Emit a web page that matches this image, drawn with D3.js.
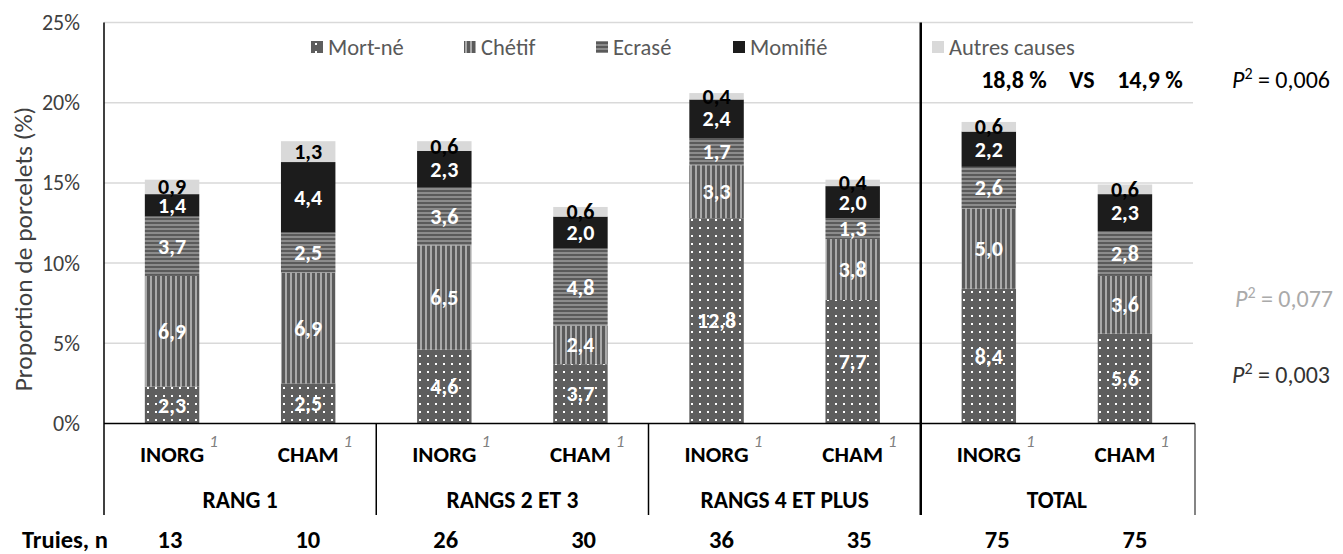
<!DOCTYPE html>
<html><head><meta charset="utf-8">
<script src="https://cdn.jsdelivr.net/npm/d3@7"></script>
<style>
body{margin:0;background:#fff}
text{font-family:Carlito,Lato,"Open Sans",sans-serif}
</style>
</head><body>
<svg id="chart" width="1343" height="554"></svg>
<script>
// ---------- data ----------
const categories = ["R1-INORG","R1-CHAM","R23-INORG","R23-CHAM","R4-INORG","R4-CHAM","T-INORG","T-CHAM"];
const subLabels = ["INORG","CHAM","INORG","CHAM","INORG","CHAM","INORG","CHAM"];
const groups = ["RANG 1","RANGS 2 ET 3","RANGS 4 ET PLUS","TOTAL"];
const seriesNames = ["Mort-né","Chétif","Ecrasé","Momifié","Autres causes"];
const mortNe  = [2.3, 2.5, 4.6, 3.7, 12.8, 7.7, 8.4, 5.6];
const chetif  = [6.9, 6.9, 6.5, 2.4, 3.3, 3.8, 5.0, 3.6];
const ecrase  = [3.7, 2.5, 3.6, 4.8, 1.7, 1.3, 2.6, 2.8];
const momifie = [1.4, 4.4, 2.3, 2.0, 2.4, 2.0, 2.2, 2.3];
const autres  = [0.9, 1.3, 0.6, 0.6, 0.4, 0.4, 0.6, 0.6];
const truiesN = [13, 10, 26, 30, 36, 35, 75, 75];
const yTicks = [0, 5, 10, 15, 20, 25];
const totalsText = ["18,8 %", "VS", "14,9 %"];
const pValues = ["0,006", "0,077", "0,003"];

// ---------- layout ----------
const svg = d3.select("#chart");
svg.append("rect").attr("width",1343).attr("height",554).attr("fill","#fff");
const L = 104, R = 1193, T = 22.5, B = 423.5;
const y = d3.scaleLinear().domain([0,25]).range([B,T]);
const x = d3.scaleBand().domain(categories).range([L,R]).paddingInner(0.6).paddingOuter(0.3);
const nPos = d3.scalePoint().domain(categories).range([170,1135]);
const step = x.step(), bw = x.bandwidth();

// patterns
const defs = svg.append("defs");
const pM = defs.append("pattern").attr("id","pMort").attr("patternUnits","userSpaceOnUse").attr("width",8).attr("height",8);
pM.append("rect").attr("width",8).attr("height",8).attr("fill","#5e5e5e");
pM.append("rect").attr("x",3).attr("y",3).attr("width",2).attr("height",2).attr("fill","#fff");
const pC = defs.append("pattern").attr("id","pChet").attr("patternUnits","userSpaceOnUse").attr("width",5).attr("height",10);
pC.append("rect").attr("width",5).attr("height",10).attr("fill","#5a5a5a");
pC.append("rect").attr("x",0).attr("width",2).attr("height",10).attr("fill","#a9a9a9");
const pE = defs.append("pattern").attr("id","pEcr").attr("patternUnits","userSpaceOnUse").attr("width",10).attr("height",4);
pE.append("rect").attr("width",10).attr("height",4).attr("fill","#5a5a5a");
pE.append("rect").attr("y",0).attr("width",10).attr("height",2).attr("fill","#8c8c8c");
const fills = ["url(#pMort)","url(#pChet)","url(#pEcr)","#1c1c1c","#d9d9d9"];
const labelColors = ["#fff","#fff","#fff","#fff","#000"];

// gridlines
svg.append("g").selectAll("line").data(yTicks.filter(d=>d>0)).join("line")
  .attr("x1",L).attr("x2",R).attr("y1",d=>y(d)).attr("y2",d=>y(d))
  .attr("stroke","#d9d9d9").attr("stroke-width",1.5);

// y tick labels
const yAxis = d3.axisLeft(y).tickValues(yTicks).tickFormat(d=>d+"%").tickSize(0).tickPadding(0);
const ga = svg.append("g").attr("transform",`translate(${L-24},0)`).call(yAxis);
ga.select(".domain").remove();
ga.selectAll("text").attr("font-size",22).attr("fill","#404040").attr("font-family","Carlito,Lato,sans-serif");

// y axis title
svg.append("text").attr("transform","translate(32,249) rotate(-90)").attr("text-anchor","middle")
  .attr("font-size",25.5).attr("fill","#404040").text("Proportion de porcelets (%)");

// stacked bars
const table = categories.map((c,i)=>({cat:c, "Mort-né":mortNe[i], "Chétif":chetif[i], "Ecrasé":ecrase[i], "Momifié":momifie[i], "Autres causes":autres[i]}));
const stacked = d3.stack().keys(seriesNames)(table);
const gBars = svg.append("g");
stacked.forEach((s,si)=>{
  gBars.append("g").selectAll("rect").data(s).join("rect")
    .attr("x",d=>x(d.data.cat)).attr("width",bw)
    .attr("y",d=>y(d[1])).attr("height",d=>y(d[0])-y(d[1]))
    .attr("fill",fills[si]);
});
const gLab = svg.append("g");
stacked.forEach((s,si)=>{
  gLab.append("g").selectAll("text").data(s).join("text")
    .attr("x",d=>x(d.data.cat)+bw/2).attr("y",d=>y((d[0]+d[1])/2)+7.5)
    .attr("text-anchor","middle").attr("font-size",22).attr("font-weight","bold")
    .attr("fill",labelColors[si])
    .text(d=>d3.format(".1f")(d[1]-d[0]).replace(".",","));
});

// axes lines
svg.append("line").attr("x1",L).attr("x2",R+2).attr("y1",B).attr("y2",B).attr("stroke","#000").attr("stroke-width",1.5);
svg.append("line").attr("x1",L).attr("x2",L).attr("y1",T).attr("y2",515).attr("stroke","#000").attr("stroke-width",1.5);
groups.forEach((g,gi)=>{
  const xs = x(categories[gi*2]) - (step-bw)/2;
  if(gi>0){
    const thick = gi===3;
    svg.append("line").attr("x1",xs).attr("x2",xs).attr("y1",thick?T:B).attr("y2",515)
      .attr("stroke","#000").attr("stroke-width",thick?2.5:1.5);
  }
});
svg.append("line").attr("x1",R+2).attr("x2",R+2).attr("y1",B).attr("y2",515).attr("stroke","#333").attr("stroke-width",1.2);

// sub labels
categories.forEach((c,i)=>{
  const cx = x(c)+bw/2;
  const t = svg.append("text").attr("x",cx).attr("y",462).attr("text-anchor","middle")
    .attr("font-size",23).attr("font-weight","bold").attr("fill","#000").text(subLabels[i]);
  const w = t.node().getComputedTextLength();
  svg.append("text").attr("x",cx+w/2+5).attr("y",447).attr("font-size",17).attr("font-style","italic")
    .attr("fill","#7f7f7f").text("1");
});
groups.forEach((g,gi)=>{
  const cx = (x(categories[gi*2]) + x(categories[gi*2+1]) + bw)/2;
  svg.append("text").attr("x",cx).attr("y",508).attr("text-anchor","middle")
    .attr("font-size",23.5).attr("font-weight","bold").attr("fill","#000").text(g);
});

// Truies row
svg.append("text").attr("x",22).attr("y",548).attr("font-size",24.5).attr("font-weight","bold").text("Truies, n");
svg.append("g").selectAll("text").data(truiesN).join("text")
  .attr("x",(d,i)=>nPos(categories[i])).attr("y",548).attr("text-anchor","middle")
  .attr("font-size",24.5).attr("font-weight","bold").text(d=>d);

// legend
const legX = [311, 464, 596, 733, 932];
const legend = svg.append("g");
seriesNames.forEach((s,i)=>{
  legend.append("rect").attr("x",legX[i]).attr("y",41).attr("width",12).attr("height",12).attr("fill",fills[i]);
  legend.append("text").attr("x",legX[i]+17).attr("y",55).attr("font-size",22.5).attr("fill","#595959").text(s);
});

// totals comparison
const tx = [1014, 1082, 1150];
totalsText.forEach((t,i)=>{
  svg.append("text").attr("x",tx[i]).attr("y",88).attr("text-anchor","middle")
    .attr("font-size",24).attr("font-weight","bold").text(t);
});

// p-values
const pPos = [{x:1232,y:88,c:"#000"},{x:1235,y:307,c:"#aaaaaa"},{x:1232,y:383,c:"#333"}];
pValues.forEach((p,i)=>{
  const t = svg.append("text").attr("x",pPos[i].x).attr("y",pPos[i].y).attr("font-size",24).attr("fill",pPos[i].c);
  t.append("tspan").attr("font-style","italic").text("P");
  t.append("tspan").attr("font-size",16).attr("dy",-9).text("2");
  t.append("tspan").attr("dy",9).text(" = "+p);
});
</script>
</body></html>
